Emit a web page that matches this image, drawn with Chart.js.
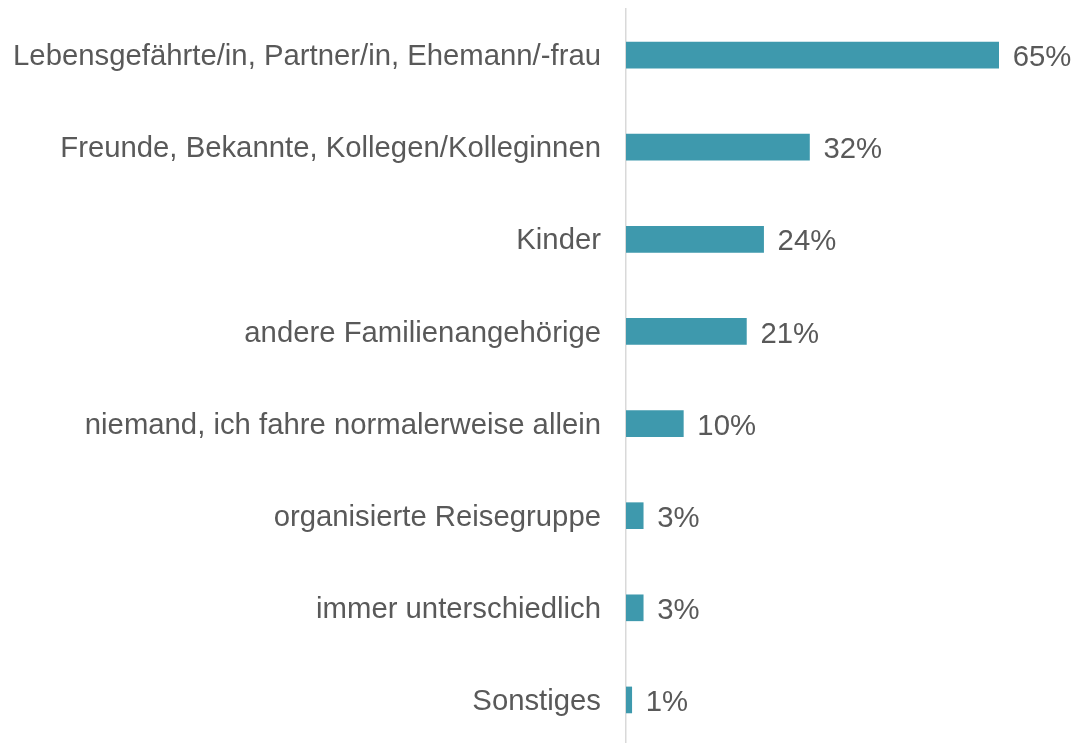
<!DOCTYPE html>
<html>
<head>
<meta charset="utf-8">
<script src="https://cdn.jsdelivr.net/npm/chart.js@4/dist/chart.umd.min.js"></script>
<style>
  html, body { margin: 0; padding: 0; background: #fff; overflow: hidden; }
  #wrap { position: relative; width: 1077px; height: 746px; }
</style>
</head>
<body>
<div id="wrap"><canvas id="chart"></canvas></div>
<script>
// Antworten und Anteile (in %)
const categories = [
  'Lebensgefährte/in, Partner/in, Ehemann/-frau',
  'Freunde, Bekannte, Kollegen/Kolleginnen',
  'Kinder',
  'andere Familienangehörige',
  'niemand, ich fahre normalerweise allein',
  'organisierte Reisegruppe',
  'immer unterschiedlich',
  'Sonstiges'
];
const values = [65, 32, 24, 21, 10, 3, 3, 1];

const textColor = '#595959';
const barColor  = '#3e99ad';
const fontFamily = 'Arial, "Liberation Sans", sans-serif';

// Prozentwerte rechts neben die Balken schreiben
const valueLabels = {
  id: 'valueLabels',
  afterDatasetsDraw(chart) {
    const { ctx } = chart;
    const meta = chart.getDatasetMeta(0);
    ctx.save();
    ctx.font = '29.3px ' + fontFamily;
    ctx.fillStyle = textColor;
    ctx.textAlign = 'left';
    ctx.textBaseline = 'middle';
    meta.data.forEach((bar, i) => {
      ctx.fillText(values[i] + '%', bar.x + 14, bar.y + 3);
    });
    ctx.restore();
  }
};

new Chart(document.getElementById('chart'), {
  type: 'bar',
  data: {
    labels: categories,
    datasets: [{
      data: values,
      backgroundColor: barColor,
      barThickness: 26,
      borderWidth: 0
    }]
  },
  options: {
    indexAxis: 'y',
    responsive: true,
    maintainAspectRatio: false,
    animation: false,
    layout: { padding: { top: 9, right: 21, left: 0, bottom: 0 } },
    plugins: {
      legend: { display: false },
      tooltip: { enabled: false }
    },
    scales: {
      x: {
        display: false,
        min: 0,
        max: 75
      },
      y: {
        afterFit(scale) {
          scale.width = 626;
          // keine Extra-Abstände oben/unten durch die Beschriftungen
          scale.paddingTop = 0;
          scale.paddingBottom = 0;
        },
        grid: { display: false, drawTicks: false },
        border: { display: true, color: '#d9d9d9', width: 1.5 },
        ticks: {
          color: textColor,
          padding: 25,
          labelOffset: 2,
          font: { size: 29.3, family: fontFamily }
        }
      }
    }
  },
  plugins: [valueLabels]
});
</script>
</body>
</html>
